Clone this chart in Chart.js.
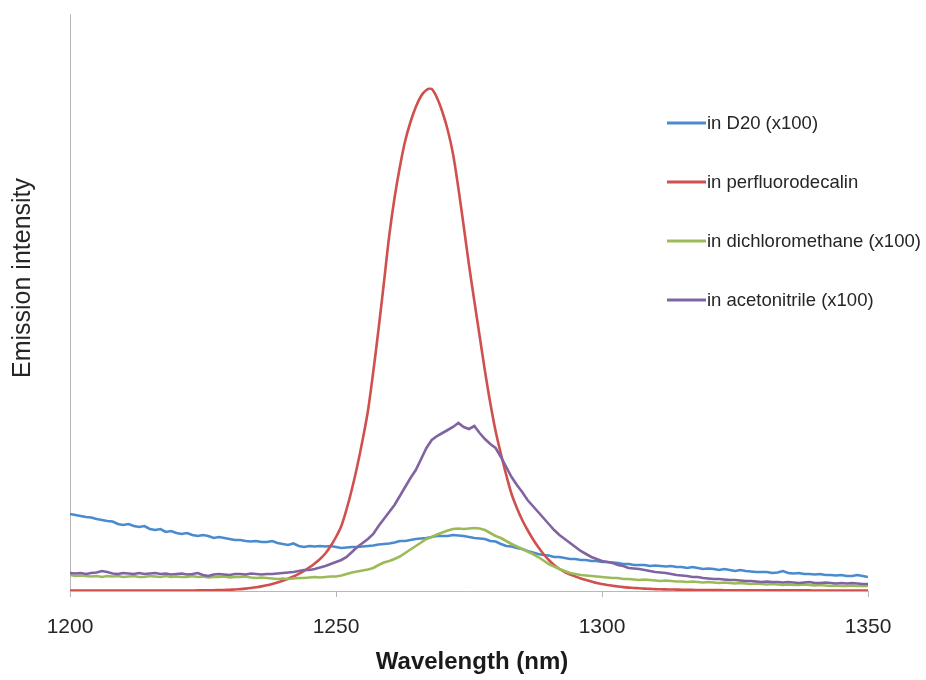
<!DOCTYPE html>
<html>
<head>
<meta charset="utf-8">
<script src="https://cdn.jsdelivr.net/npm/chart.js@4.4.1/dist/chart.umd.min.js"></script>
<style>
html,body{margin:0;padding:0;background:#fff;}
#wrap{width:926px;height:680px;position:relative;}
</style>
</head>
<body>
<div id="wrap"><canvas id="c" width="926" height="680"></canvas></div>
<script>
// Wavelength grid (nm)
const wavelengths = [
1200,1201,1202,1203,1204,1205,1206,1207,1208,1209,
1210,1211,1212,1213,1214,1215,1216,1217,1218,1219,
1220,1221,1222,1223,1224,1225,1226,1227,1228,1229,
1230,1231,1232,1233,1234,1235,1236,1237,1238,1239,
1240,1241,1242,1243,1244,1245,1246,1247,1248,1249,
1250,1251,1252,1253,1254,1255,1256,1257,1258,1259,
1260,1261,1262,1263,1264,1265,1266,1267,1268,1269,
1270,1271,1272,1273,1274,1275,1276,1277,1278,1279,
1280,1281,1282,1283,1284,1285,1286,1287,1288,1289,
1290,1291,1292,1293,1294,1295,1296,1297,1298,1299,
1300,1301,1302,1303,1304,1305,1306,1307,1308,1309,
1310,1311,1312,1313,1314,1315,1316,1317,1318,1319,
1320,1321,1322,1323,1324,1325,1326,1327,1328,1329,
1330,1331,1332,1333,1334,1335,1336,1337,1338,1339,
1340,1341,1342,1343,1344,1345,1346,1347,1348,1349,
1350];

// Emission intensity (arbitrary units)
const d2o = [
77,76,75,74,73.5,72,71,70,69.5,67,
66,67,65,64,65,62,61,62,59,60,
58,57,58,56,55,56,55,53,54,53,
52,51,51,50,49.5,50,49,49,50,48,
47,46,47.5,45,44,45,44.5,45,44.5,45,
44,43,43.5,44,44,44.5,45,45.5,46.5,47,
47.5,48.5,50,50,51,52,52.5,53,54,55,
55,55,56,55.5,55,54,53,52.5,52,50,
49.5,47,45,44.5,43,42,40,38.5,37,36,
35.5,34,34,33,32,32,31,31,30,30,
29,29,28.5,28,27,27,26,26,26,25,
25.5,25,24.5,25,24,24,23,24,23,22,
22.5,22,21,22,21,20,21,20,19.5,19,
19,19,18,18.5,20,18,17.5,18,17,17,
16.5,17,16,16,15.5,16,15,15,16,15,
14];

const perfluorodecalin = [
0.5,0.5,0.5,0.5,0.5,0.5,0.5,0.5,0.5,0.5,
0.5,0.5,0.5,0.5,0.5,0.5,0.5,0.5,0.5,0.5,
0.5,0.5,0.5,0.5,0.6,0.6,0.7,0.8,0.9,1,
1.2,1.5,1.9,2.4,3,3.7,4.6,5.7,7,8.5,
10.2,12.2,14.5,17.2,20.2,23.6,27.5,32,37.5,45,
54,65,82,102,125,151,180,219,262,308,
355,393,424,450,469,484,495,501,502,493,
479,461,437,403,365,326,290,255,220,188,
160,137,116,97,83,71,61,52,44,37,
31,26,22,19,16.5,14.5,12.5,11,9.5,8,
7,6,5.2,4.5,3.9,3.4,3,2.7,2.4,2.1,
1.9,1.7,1.6,1.5,1.4,1.3,1.2,1.1,1,1,
0.9,0.9,0.9,0.8,0.8,0.8,0.8,0.7,0.7,0.7,
0.7,0.7,0.6,0.6,0.6,0.6,0.6,0.6,0.6,0.6,
0.5,0.5,0.5,0.5,0.5,0.5,0.5,0.5,0.5,0.5,
0.5];

const dichloromethane = [
16,15,15.5,15,14.5,15,14,15,14.5,15,
14,14.5,15,14,14,15,14.5,14,15,14,
14.5,14,14,15,14,14.5,13.5,14,14,14.5,
13.5,14,14,14.5,13.5,13,13.5,13,12.5,12,
12.5,12,12.5,13,13,13.5,14,13.5,14,14.5,
14.5,15.5,17,18.5,19.5,20.5,21.5,23,26,28.5,
30,32,34.5,38,41.5,45,48.5,52,54,56.5,
58.5,60.5,62,62.5,62,62.5,63,62.5,61,58,
55,53,50,47,44.5,42,39.5,37,34,30.5,
27,24.5,22,20,18,17,16,15.5,15,14.5,
14,13.5,13,13,12,12,11.5,11,11.5,11,
10.5,10,10.5,10,9.5,9.5,9,9.5,9,8.5,
9,8.5,8,8.5,8,7.5,8,7.5,7,7.5,
7,6.5,7,6.5,6,6.5,6,6,6.5,6,
5.5,6,5.5,5,5.5,5,5,5.5,5,5,
5];

const acetonitrile = [
18,17.5,18,17,18,18.5,20,19,17.5,17,
18,17.5,17,18,17,17.5,18,17,17.5,16.5,
17,17.5,16.5,17,18,16,15,16.5,17,16.5,
16,17,17,16.5,17.5,17,16.5,17,17,17.5,
18,18.5,19,20,21,21,22,23.5,25,27,
29,31,34,39,44,48,52,57,65,72,
79,86,95,104,113,121,132,143,151,155,
158,161,164,168,164,162,165,158,152,147,
143,134,124,114,106,99,91,85,79,73,
67,61,56,52,48,44,40,37,34,32,
30,29,28,26,25,23,22.5,22,21,20,
19,18.5,18,17,16,15.5,15,14,14,13,
12.5,12,12,11.5,11,11,10.5,10,10,9.5,
9,9.5,9,9,8.5,9,8.5,8,8.5,9,
8,8,8.5,8,7.5,8,7.5,8,7.5,7,
7];

const seriesLabels = ["in D20 (x100)", "in perfluorodecalin", "in dichloromethane (x100)", "in acetonitrile (x100)"];
const seriesValues = [d2o, perfluorodecalin, dichloromethane, acetonitrile];
const seriesColors = ["#4A8BCF", "#D0504D", "#9BBB59", "#8064A2"];
const xTicks = [1200, 1250, 1300, 1350];
const xTitle = "Wavelength (nm)";
const yTitle = "Emission intensity";

const FONT = '"Liberation Sans", Arial, Helvetica, sans-serif';
const TEXT = '#262626';

const datasets = seriesValues.map((vals, k) => ({
  label: seriesLabels[k],
  data: wavelengths.map((w, i) => ({x: w, y: vals[i]})),
  borderColor: seriesColors[k],
  backgroundColor: seriesColors[k],
  borderWidth: 2.6,
  pointRadius: 0,
  fill: false,
  tension: k === 1 ? 0.3 : 0,
  order: seriesValues.length - k
}));

const annot = {
  id: 'annot',
  afterDraw(chart) {
    const ctx = chart.ctx;
    // y title
    ctx.save();
    ctx.translate(23, 278);
    ctx.rotate(-Math.PI / 2);
    ctx.font = '25px ' + FONT;
    ctx.fillStyle = TEXT;
    ctx.textAlign = 'center';
    ctx.textBaseline = 'middle';
    ctx.fillText(yTitle, 0, 0);
    ctx.restore();
    // x title
    ctx.save();
    ctx.font = 'bold 24px ' + FONT;
    ctx.fillStyle = '#1a1a1a';
    ctx.textAlign = 'center';
    ctx.textBaseline = 'middle';
    ctx.fillText(xTitle, 472, 662);
    ctx.restore();
    // legend
    ctx.save();
    ctx.font = '18.5px ' + FONT;
    ctx.fillStyle = TEXT;
    ctx.textAlign = 'left';
    ctx.textBaseline = 'middle';
    chart.data.datasets.forEach((ds, i) => {
      const y = 123 + i * 59;
      ctx.strokeStyle = ds.borderColor;
      ctx.lineWidth = 3;
      ctx.beginPath();
      ctx.moveTo(667, y);
      ctx.lineTo(706, y);
      ctx.stroke();
      ctx.fillText(ds.label, 707, y + 1);
    });
    ctx.restore();
  }
};

new Chart(document.getElementById('c'), {
  type: 'line',
  data: { datasets },
  plugins: [annot],
  options: {
    responsive: false,
    animation: false,
    layout: { padding: { top: 14, right: 58, left: 0, bottom: 0 } },
    plugins: { legend: { display: false }, tooltip: { enabled: false } },
    scales: {
      x: {
        type: 'linear',
        min: xTicks[0],
        max: xTicks[xTicks.length - 1],
        afterBuildTicks(s) { s.ticks = xTicks.map(v => ({ value: v })); },
        ticks: { color: TEXT, font: { family: FONT, size: 21 }, padding: 18, maxRotation: 0,
                 callback: (v) => String(v) },
        grid: { drawOnChartArea: false, drawTicks: true, tickLength: 6, color: '#b8b8b8', lineWidth: 1 },
        border: { display: true, color: '#b8b8b8', width: 1 },
        afterFit(s) { s.height = 89; }
      },
      y: {
        min: 0,
        max: 577,
        ticks: { display: false },
        grid: { display: false },
        border: { display: true, color: '#b8b8b8', width: 1 },
        afterFit(s) { s.width = 70; }
      }
    }
  }
});
</script>
</body>
</html>
